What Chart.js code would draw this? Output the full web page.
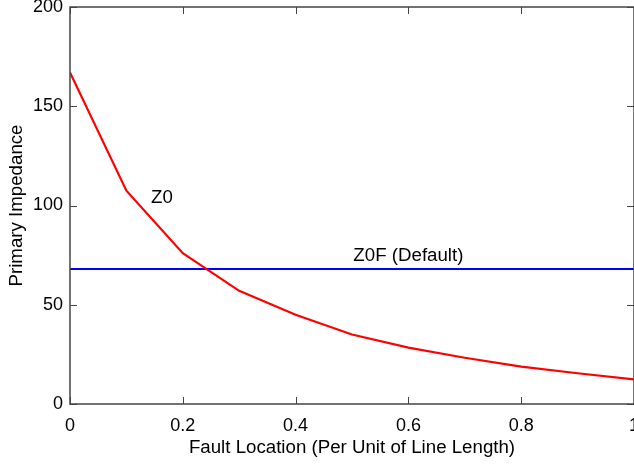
<!DOCTYPE html>
<html>
<head>
<meta charset="utf-8">
<script src="https://cdn.jsdelivr.net/npm/chart.js@4"></script>
<style>
  html, body { margin: 0; padding: 0; background: #fff; }
  #wrap { width: 634px; height: 464px; }
</style>
</head>
<body>
<div id="wrap"><canvas id="c"></canvas></div>
<script>
// fault location (per unit)
const location_pu = [0, 0.1, 0.2, 0.3, 0.4, 0.5, 0.6, 0.7, 0.8, 0.9, 1];
// Z0 primary impedance
const z0 = [167, 107.5, 76, 57, 45, 35, 28.4, 23.3, 18.8, 15.5, 12.4];
// Z0F default setting (flat)
const z0f = [68, 68, 68, 68, 68, 68, 68, 68, 68, 68, 68];

const xTicks = [0, 0.2, 0.4, 0.6, 0.8, 1];
const yTicks = [0, 50, 100, 150, 200];

const notes = [
  { text: "Z0", x: 0.163, y: 104 },
  { text: "Z0F (Default)", x: 0.6, y: 74.5 }
];

const FONT = "'Liberation Sans', Arial, sans-serif";
const FS = 18;     // tick labels
const FS_T = 18.7; // axis titles + notes
const FRAME = "#444";

// ticks drawn inward, plus box frame and the two text notes
const frameTicks = {
  id: "frameTicks",
  afterDatasetsDraw(chart) {
    const { ctx, chartArea: a, scales } = chart;
    ctx.save();
    ctx.strokeStyle = FRAME;
    ctx.lineWidth = 1;
    ctx.beginPath();
    xTicks.forEach(v => {
      const px = Math.round(scales.x.getPixelForValue(v)) + 0.5;
      ctx.moveTo(px, a.bottom); ctx.lineTo(px, a.bottom - 7);
      ctx.moveTo(px, a.top); ctx.lineTo(px, a.top + 7);
    });
    yTicks.forEach(v => {
      const py = Math.round(scales.y.getPixelForValue(v)) + 0.5;
      ctx.moveTo(a.left, py); ctx.lineTo(a.left + 7, py);
      ctx.moveTo(a.right, py); ctx.lineTo(a.right - 7, py);
    });
    ctx.stroke();
    ctx.lineWidth = 1.5;
    ctx.strokeRect(a.left, a.top, a.right - a.left, a.bottom - a.top);

    ctx.fillStyle = "#000";
    ctx.font = FS_T + "px " + FONT;
    ctx.textAlign = "center";
    ctx.textBaseline = "middle";
    notes.forEach(n => {
      ctx.fillText(n.text, scales.x.getPixelForValue(n.x), scales.y.getPixelForValue(n.y));
    });
    ctx.restore();
  }
};

new Chart(document.getElementById("c"), {
  type: "line",
  data: {
    labels: location_pu,
    datasets: [
      {
        label: "Z0",
        data: location_pu.map((x, i) => ({ x, y: z0[i] })),
        borderColor: "#ff0000",
        borderWidth: 2.2,
        pointRadius: 0,
        tension: 0
      },
      {
        label: "Z0F (Default)",
        data: location_pu.map((x, i) => ({ x, y: z0f[i] })),
        borderColor: "#0000ff",
        borderWidth: 2.2,
        pointRadius: 0,
        tension: 0
      }
    ]
  },
  options: {
    responsive: true,
    maintainAspectRatio: false,
    animation: false,
    layout: { padding: { top: 7, right: 0, left: 0, bottom: 0 } },
    plugins: {
      legend: { display: false },
      tooltip: { enabled: false }
    },
    scales: {
      x: {
        type: "linear",
        min: 0,
        max: 1,
        afterBuildTicks: s => { s.ticks = xTicks.map(v => ({ value: v })); },
        afterFit: s => { s.height = 60; s.paddingLeft = 0; s.paddingRight = 0; },
        grid: { display: false, drawTicks: false },
        border: { display: false },
        ticks: {
          color: "#000",
          font: { family: FONT, size: FS },
          padding: 11,
          maxRotation: 0,
          autoSkip: false,
          callback: v => String(v)
        },
        title: {
          display: true,
          text: "Fault Location (Per Unit of Line Length)",
          color: "#000",
          font: { family: FONT, size: FS_T },
          padding: { top: 0, bottom: 5 }
        }
      },
      y: {
        type: "linear",
        min: 0,
        max: 200,
        afterBuildTicks: s => { s.ticks = yTicks.map(v => ({ value: v })); },
        afterFit: s => { s.width = 70; s.paddingTop = 0; s.paddingBottom = 0; },
        grid: { display: false, drawTicks: false },
        border: { display: false },
        ticks: {
          color: "#000",
          font: { family: FONT, size: FS },
          padding: 7
        },
        title: {
          display: true,
          text: "Primary Impedance",
          color: "#000",
          font: { family: FONT, size: FS_T },
          padding: { top: 6, bottom: 0 }
        }
      }
    }
  },
  plugins: [frameTicks]
});
</script>
</body>
</html>
